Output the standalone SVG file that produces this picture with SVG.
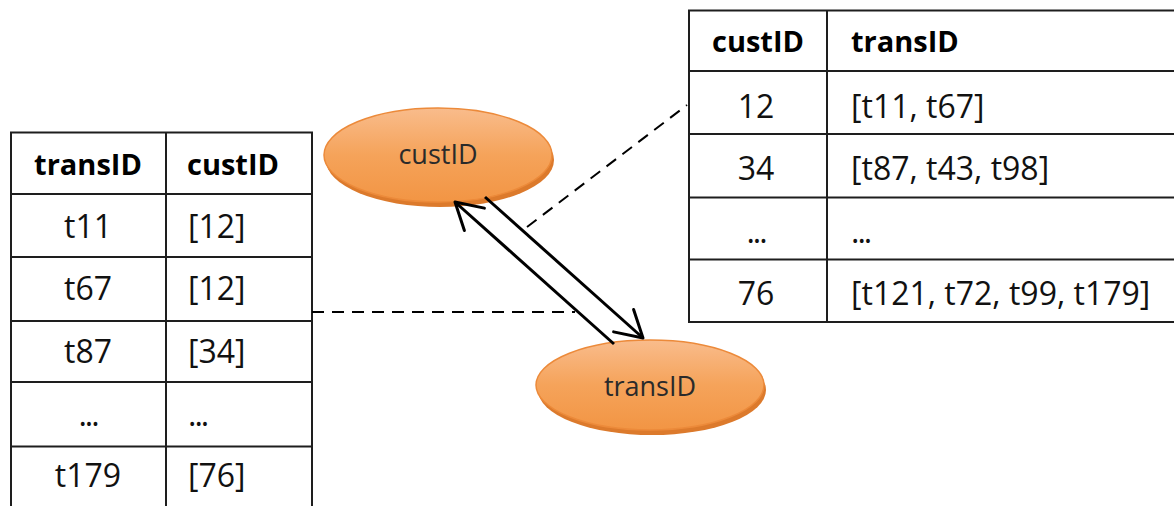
<svg xmlns="http://www.w3.org/2000/svg" width="1174" height="506" viewBox="0 0 1174 506">
<style>
.grid{stroke:#1e1e1e;stroke-width:2;fill:none}
.t{font-family:"Open Sans","Liberation Sans",sans-serif;font-size:32px;fill:#111}
.h{font-family:"Open Sans","Liberation Sans",sans-serif;font-size:29px;font-weight:bold;fill:#000}
.m{text-anchor:middle}
.d{letter-spacing:-2px}
.el{font-family:"Open Sans","Liberation Sans",sans-serif;font-size:27px;fill:#2a2a2a;text-anchor:middle}
.arrow{stroke:#000;stroke-width:3;fill:none}
.dash{stroke:#000;stroke-width:2;stroke-dasharray:12 8;fill:none}
</style>
<defs>
<linearGradient id="og" x1="0" y1="0" x2="0" y2="1">
<stop offset="0" stop-color="#f9bc8c"/>
<stop offset="0.5" stop-color="#f5a35a"/>
<stop offset="1" stop-color="#f29544"/>
</linearGradient>
<marker id="ah" viewBox="0 0 32 34" refX="30" refY="17" markerWidth="32" markerHeight="34" markerUnits="userSpaceOnUse" orient="auto">
<path d="M4 2 L30 17 L4 32" stroke="#000" stroke-width="3" fill="none" stroke-linejoin="round" stroke-linecap="round"/>
</marker>
</defs>
<g id="table-trans">
<path class="grid" d="M11 506 V132.5 H312 V506 M166 132.5 V506 M11 194 H312 M11 257 H312 M11 321 H312 M11 382 H312 M11 446.5 H312"/>
<text class="h m" x="88" y="175">transID</text>
<text class="h m" x="233" y="175">custID</text>
<text class="t m" x="88" y="238">t11</text>
<text class="t" x="188" y="238">[12]</text>
<text class="t m" x="88" y="300">t67</text>
<text class="t" x="188" y="300">[12]</text>
<text class="t m" x="88" y="363">t87</text>
<text class="t" x="188" y="363">[34]</text>
<text class="t m d" x="88" y="426">...</text>
<text class="t d" x="188" y="426">...</text>
<text class="t m" x="88" y="487">t179</text>
<text class="t" x="188" y="487">[76]</text>
</g>
<g id="table-cust">
<path class="grid" d="M1174 10.5 H689 V322 H1174 M827 10.5 V322 M689 71 H1174 M689 134 H1174 M689 197.5 H1174 M689 259.5 H1174"/>
<text class="h m" x="758" y="52">custID</text>
<text class="h" x="851" y="52">transID</text>
<text class="t m" x="756" y="118">12</text>
<text class="t" x="851" y="118">[t11, t67]</text>
<text class="t m" x="756" y="180">34</text>
<text class="t" x="851" y="180">[t87, t43, t98]</text>
<text class="t m d" x="756" y="243">...</text>
<text class="t d" x="851" y="243">...</text>
<text class="t m" x="756" y="305">76</text>
<text class="t" x="851" y="305">[t121, t72, t99, t179]</text>
</g>
<g id="node-custID">
<ellipse cx="440" cy="160" rx="114" ry="47" fill="#dc7a2c"/>
<ellipse cx="438" cy="155" rx="114" ry="47" fill="url(#og)" stroke="#ec8a3a" stroke-width="1.5"/>
<text class="el" x="438" y="164">custID</text>
</g>
<g id="node-transID">
<ellipse cx="652" cy="390" rx="114" ry="45" fill="#dc7a2c"/>
<ellipse cx="650" cy="385" rx="114" ry="45" fill="url(#og)" stroke="#ec8a3a" stroke-width="1.5"/>
<text class="el" x="650" y="396">transID</text>
</g>
<g id="connectors">
<path class="dash" d="M527 227 L687 105"/>
<path class="dash" d="M312 312 L575 312"/>
<path class="arrow" d="M485 197 L643 338" marker-end="url(#ah)"/>
<path class="arrow" d="M614 344 L455 202" marker-end="url(#ah)"/>
</g>
</svg>
